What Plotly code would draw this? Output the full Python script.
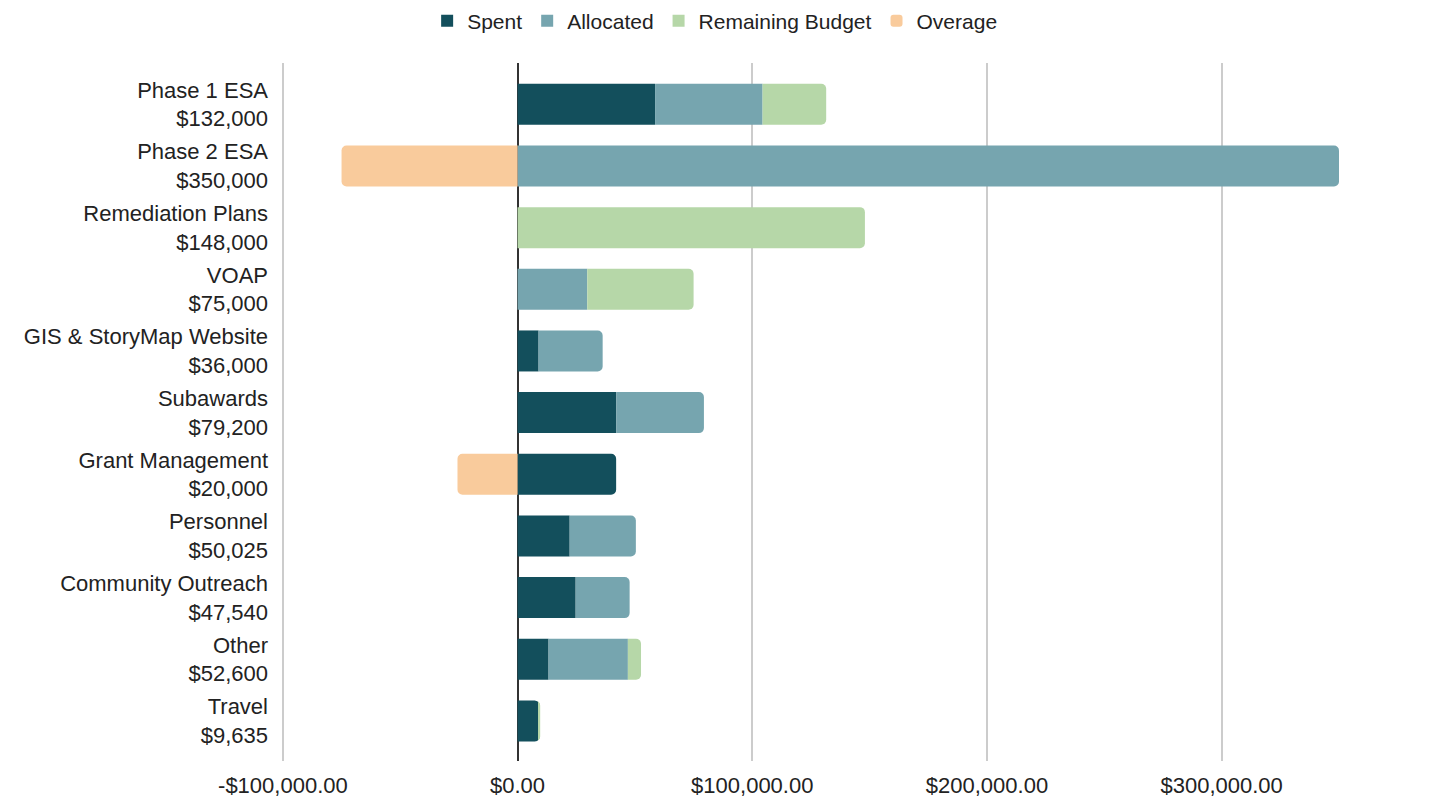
import plotly.graph_objects as go

categories = ["Phase 1 ESA", "Phase 2 ESA", "Remediation Plans", "VOAP",
              "GIS & StoryMap Website", "Subawards", "Grant Management",
              "Personnel", "Community Outreach", "Other", "Travel"]
budget_labels = ["$132,000", "$350,000", "$148,000", "$75,000", "$36,000",
                 "$79,200", "$20,000", "$50,025", "$47,540", "$52,600", "$9,635"]

spent = [58600, 0, 0, 0, 8950, 42100, 42000, 22200, 24750, 13200, 9000]
allocated = [45800, 350000, 0, 29700, 27300, 37300, 0, 28200, 23000, 33800, 0]
remaining = [27100, 0, 148000, 45300, 0, 0, 0, 0, 0, 5600, 635]
overage = [0, -75000, 0, 0, 0, 0, -25600, 0, 0, 0, 0]

x_tick_values = [-100000, 0, 100000, 200000, 300000]
x_tick_labels = ["-$100,000.00", "$0.00", "$100,000.00", "$200,000.00", "$300,000.00"]

y_tick_labels = [f"{c}<br>{b}" for c, b in zip(categories, budget_labels)]

FONT = "Liberation Sans, Arial, sans-serif"

fig = go.Figure()
fig.add_trace(go.Bar(y=categories, x=spent, name="Spent", orientation="h",
                     marker=dict(color="#134f5c", line=dict(width=0))))
fig.add_trace(go.Bar(y=categories, x=allocated, name="Allocated", orientation="h",
                     marker=dict(color="#76a5af", line=dict(width=0))))
fig.add_trace(go.Bar(y=categories, x=remaining, name="Remaining Budget", orientation="h",
                     marker=dict(color="#b6d7a8", line=dict(width=0))))
fig.add_trace(go.Bar(y=categories, x=overage, name="Overage", orientation="h",
                     marker=dict(color="#f9cb9c", line=dict(width=0), cornerradius=5)))

fig.update_layout(
    width=1451, height=801,
    barmode="relative",
    bargap=0.335,
    plot_bgcolor="white",
    paper_bgcolor="white",
    font=dict(family=FONT, size=20, color="#222222"),
    margin=dict(l=273, r=120, t=55, b=48, autoexpand=False),
    legend=dict(orientation="h", x=0.487, xanchor="center", xref="container",
                y=1 + (55 - 13) / 698, yanchor="middle", yref="paper",
                font=dict(size=21, color="#222222"), traceorder="normal"),
    xaxis=dict(range=[-100800, 350000], tickvals=x_tick_values, ticktext=x_tick_labels,
               showgrid=True, gridcolor="#cccccc", gridwidth=1.5,
               zeroline=True, zerolinecolor="#333333", zerolinewidth=1.5,
               showline=False, ticks="", tickfont=dict(size=22), automargin=False,
               ticklabelstandoff=9),
    yaxis=dict(type="category", categoryorder="array", categoryarray=categories,
               range=[10.65, -0.67], tickvals=categories, ticktext=y_tick_labels,
               showgrid=False, zeroline=False, showline=False, ticks="",
               ticklabelstandoff=12, tickfont=dict(size=22), automargin=False),
)

fig.write_html("out.html")
